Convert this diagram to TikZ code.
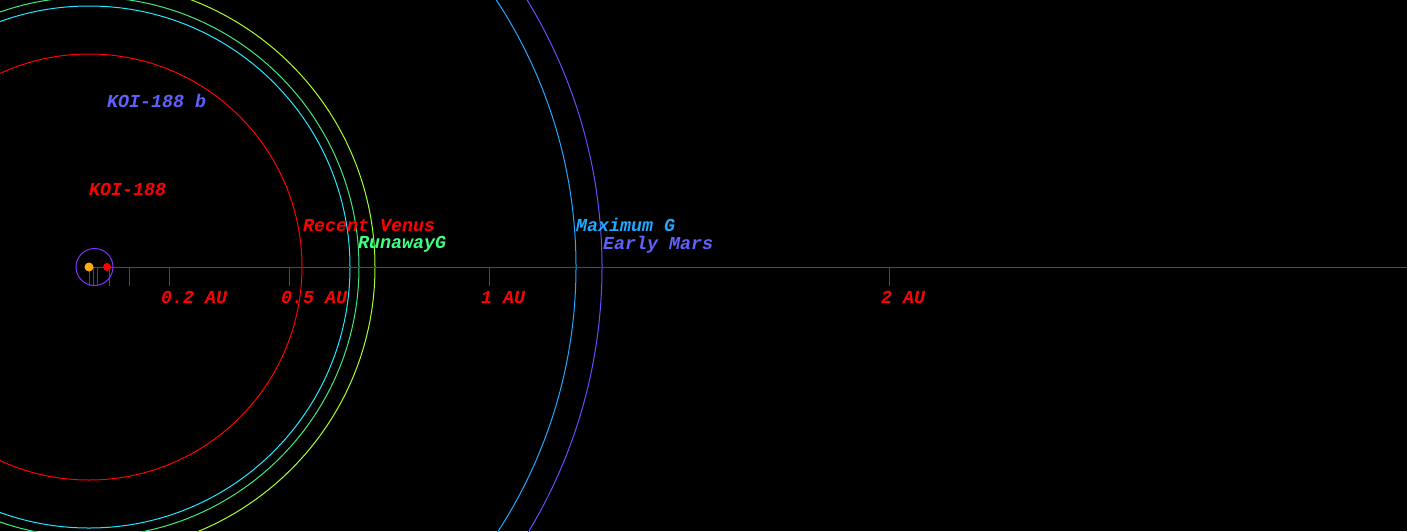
\documentclass[tikz,border=0pt]{standalone}
\usepackage{fontspec}
\setmonofont{Liberation Mono}
\definecolor{cred}{HTML}{FF0000}
\definecolor{ccyan}{HTML}{20E8FF}
\definecolor{cgreen}{HTML}{40E880}
\definecolor{cyg}{HTML}{A8FF30}
\definecolor{cltblue}{HTML}{20A8FF}
\definecolor{cpurple}{HTML}{6050FF}
\definecolor{cviolet}{HTML}{8030FF}
\definecolor{corange}{HTML}{FFAA10}
\definecolor{cblue}{HTML}{6060FF}
\definecolor{cgreentext}{HTML}{40FF80}
\tikzset{
  orbit/.style={line width=1pt},
  tick/.style={draw=cred,line width=1pt},
  lbl/.style={anchor=base west,inner sep=0pt,font=\fontsize{18.3}{20}\ttfamily\bfseries\itshape},
}
\begin{document}
\begin{tikzpicture}[x=1pt,y=-1pt]
\useasboundingbox (0,0) rectangle (1407,531);
\fill[black] (0,0) rectangle (1407,531);
\clip (0,0) rectangle (1407,531);
\coordinate (star) at (89,267);
\draw[orbit,cred] (star) circle (213);
\draw[orbit,ccyan] (star) circle (261);
\draw[orbit,cgreen] (star) circle (270);
\draw[orbit,cyg] (star) circle (286);
\draw[orbit,cltblue] (star) circle (487);
\draw[orbit,cpurple] (star) circle (513);
\coordinate (axend) at (1407,267);
\draw[tick] (star) -- (axend);
\foreach \x in {89,93,97,109,129,169,289,489,889}{
  \draw[tick] (\x,267) -- (\x,286);
}
\draw[orbit,cviolet] (94.5,267) circle (18.5);
\node[circle,fill=corange,inner sep=0pt,minimum size=9pt] (sun) at (star) {};
\node[circle,fill=cred,inner sep=0pt,minimum size=8pt] (planet) at (107,267) {};
\node[lbl,text=cblue] (pb) at (107,107) {KOI-188 b};
\node[lbl,text=cred] (st) at (89,195) {KOI-188};
\node[lbl,text=cred] (rv) at (303,231) {Recent Venus};
\node[lbl,text=cgreentext] (rg) at (358,248) {RunawayG};
\node[lbl,text=cltblue] (mg) at (576,231) {Maximum G};
\node[lbl,text=cblue] (em) at (603,249) {Early Mars};
\node[lbl,text=cred] (t1) at (161,303) {0.2 AU};
\node[lbl,text=cred] (t2) at (281,303) {0.5 AU};
\node[lbl,text=cred] (t3) at (481,303) {1 AU};
\node[lbl,text=cred] (t4) at (881,303) {2 AU};
\end{tikzpicture}
\end{document}
